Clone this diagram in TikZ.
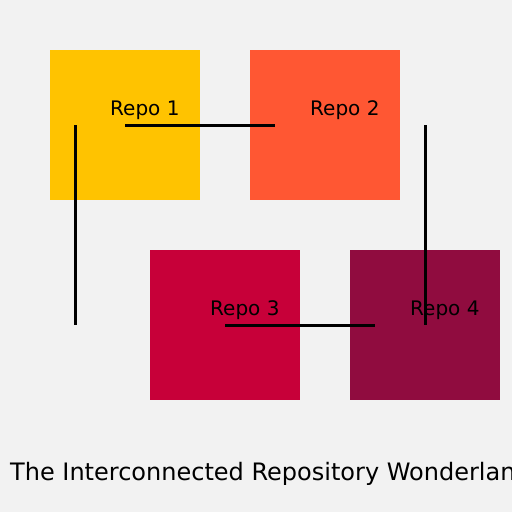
\documentclass[tikz,border=0pt]{standalone}
\usepackage{fontspec}
\setmainfont{DejaVu Sans}
\definecolor{bg}{HTML}{F2F2F2}
\definecolor{cA}{HTML}{FFC300}
\definecolor{cB}{HTML}{FF5733}
\definecolor{cC}{HTML}{C70039}
\definecolor{cD}{HTML}{900C3F}
\tikzset{
  repobox/.style={minimum width=150pt, minimum height=150pt, inner sep=0pt, outer sep=0pt, draw=none},
  repolabel/.style={anchor=base west, inner sep=0pt, font=\fontsize{20pt}{24pt}\selectfont, text=black},
  link/.style={draw=black, line width=3pt}
}
\begin{document}
\begin{tikzpicture}[x=1pt,y=-1pt]
\useasboundingbox (0,0) rectangle (512,512);
\fill[bg] (0,0) rectangle (512,512);
\begin{scope}
\clip (0,0) rectangle (512,512);
\node[repobox, fill=cA] (r1) at (125,125) {};
\node[repobox, fill=cB] (r2) at (325,125) {};
\node[repobox, fill=cC] (r3) at (225,325) {};
\node[repobox, fill=cD] (r4) at (425,325) {};
\node[repolabel] (t1) at (110,115) {Repo 1};
\node[repolabel] (t2) at (310,115) {Repo 2};
\node[repolabel] (t3) at (210,315) {Repo 3};
\node[repolabel] (t4) at (410,315) {Repo 4};
\coordinate (a1) at (275,125);
\coordinate (b0) at (75,125);
\coordinate (b1) at (75,325);
\coordinate (c0) at (425,125);
\coordinate (c1) at (425,325);
\coordinate (d1) at (375,325);
\draw[link] (r1.center) -- (a1);
\draw[link] (b0) -- (b1);
\draw[link] (c0) -- (c1);
\draw[link] (r3.center) -- (d1);
\node[anchor=base west, inner sep=0pt, font=\fontsize{24pt}{28pt}\selectfont] (title) at (10,480) {The Interconnected Repository Wonderland};
\end{scope}
\end{tikzpicture}
\end{document}
